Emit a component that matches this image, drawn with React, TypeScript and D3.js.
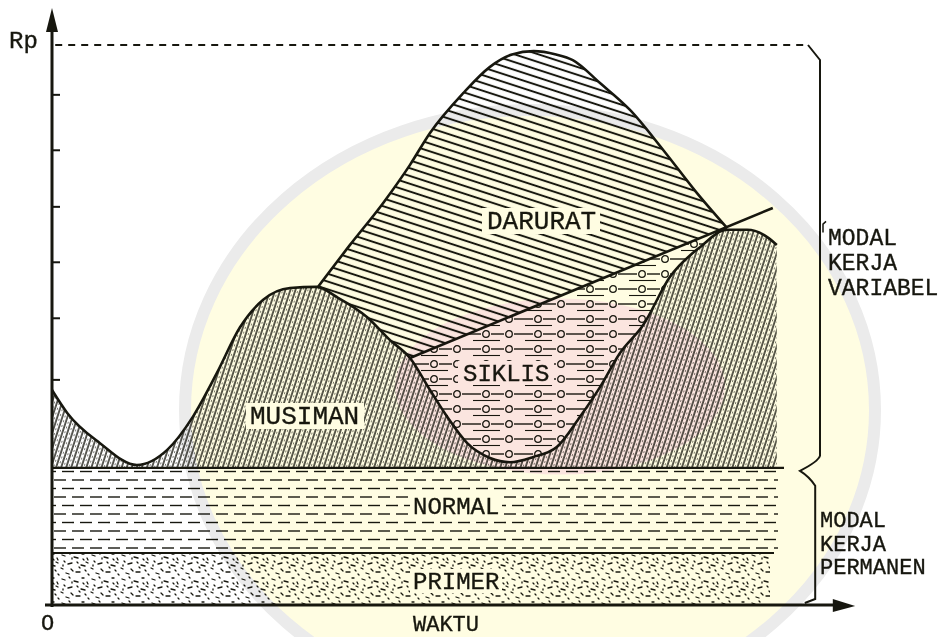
import React from "react";
import * as d3 from "d3";

// ---------- data (time units 0..100, Rp units 0..100) ----------
const primerLevel = 9.3;
const normalLevel = 24.5;
const peakLevel = 100;
const bandEnd = 90.75;

const seasonalWave: [number, number][] = [
  [0, 38.4], [1.9, 34.3], [6.0, 28.9], [10.6, 25.0], [14.4, 27.7], [17.6, 33.6],
  [20.6, 41.4], [23.5, 49.6], [26.4, 54.5], [29.75, 56.6], [33.1, 56.8], [35.6, 55.0],
  [39.4, 51.4], [42.25, 47.3], [44.75, 44.1], [47.25, 38.4], [49.4, 33.6], [51.9, 28.9],
  [54.75, 26.25], [57.25, 25.5], [60.1, 26.4], [63.1, 28.2], [66.0, 33.6], [68.5, 38.9],
  [71.0, 45.0], [73.9, 50.0], [77.25, 58.6], [81.0, 63.9], [84.4, 67.0], [86.9, 67.0],
  [89.4, 65.7], [90.6, 64.3],
];

const cyclicalTrend: [number, number][] = [[44.75, 44.1], [90.1, 70.9]];
const cyclicalEnd = 84.4;

const emergencyCurve: [number, number][] = [
  [33.25, 56.8], [37.25, 64.3], [41.4, 71.8], [44.75, 78.6], [47.25, 84.3], [51.4, 91.4],
  [54.75, 96.1], [57.5, 98.3], [60.2, 98.9], [63.0, 98.3], [65.1, 97.3], [68.5, 93.2], [72.25, 88.4],
  [76.4, 81.25], [80.6, 73.6], [84.4, 67.3],
];

const yTickValues = [40.2, 51.2, 61.2, 71.1, 81.2, 91.1];

const regionNames = ["DARURAT", "SIKLIS", "MUSIMAN", "NORMAL", "PRIMER"];
const variableLabel = ["MODAL", "KERJA", "VARIABEL"];
const permanentLabel = ["MODAL", "KERJA", "PERMANEN"];
const axisNames = ["Rp", "O", "WAKTU"];

// ---------- rendering ----------
const W = 945;
const H = 637;
const INK = "#17170f";
const FONT = "'Courier New', Courier, 'Nimbus Mono PS', FreeMono, 'Liberation Mono', monospace";

const specks = [
  [2, 3, 5, 4], [9, 1, 10, 2], [14, 5, 18, 6], [22, 2, 24, 2], [27, 6, 28, 8], [4, 9, 5, 10],
  [8, 12, 12, 11], [17, 10, 18, 11], [21, 13, 25, 14], [1, 16, 3, 17], [11, 17, 13, 19],
  [16, 20, 20, 20], [25, 18, 26, 19], [6, 21, 9, 22], [28, 22, 29, 23], [19, 15, 20, 16],
  [12, 6, 12, 7], [26, 10, 28, 11], [3, 13, 3, 14], [23, 7, 24, 8],
];

export default function App() {
  const x = d3.scaleLinear().domain([0, 100]).range([52, 852]);
  const y = d3.scaleLinear().domain([0, 100]).range([605, 45]);

  const trendAt = (t: number) => {
    const [[t0, v0], [t1, v1]] = cyclicalTrend;
    return v0 + ((t - t0) * (v1 - v0)) / (t1 - t0);
  };

  const curve = d3.curveMonotoneX;
  const lineGen = d3.line<[number, number]>().x((d) => x(d[0])).y((d) => y(d[1])).curve(curve);
  const areaGen = d3
    .area<[number, number]>()
    .x((d) => x(d[0]))
    .y0(y(normalLevel))
    .y1((d) => y(d[1]))
    .curve(curve);

  const siklisPts: [number, number][] = [
    [cyclicalTrend[0][0], cyclicalTrend[0][1]],
    [cyclicalEnd, trendAt(cyclicalEnd)],
  ];
  const siklisArea = d3
    .area<[number, number]>()
    .x((d) => x(d[0]))
    .y0(y(normalLevel))
    .y1((d) => y(d[1]))(siklisPts);

  const musimanArea = areaGen(seasonalWave);
  const daruratArea = areaGen(emergencyCurve);

  const baseY = y(normalLevel);
  const braceX = x(96);
  const braceX2 = x(95.4);

  const textStyle = { fontFamily: FONT, fill: INK, stroke: INK, strokeWidth: 0.35 } as const;

  const labelBox = (cx: number, cy: number, w: number, h: number) => (
    <rect x={cx - w / 2} y={cy - h / 2} width={w} height={h} fill="#ffffff" />
  );

  return (
    <svg
      width={W}
      height={H}
      viewBox={`0 0 ${W} ${H}`}
      style={{ position: "absolute", left: 0, top: 0, background: "#ffffff" }}
    >
      <defs>
        <pattern id="pMus" patternUnits="userSpaceOnUse" width="4.8" height="20" patternTransform="rotate(18)">
          <line x1="1" y1="0" x2="1" y2="20" stroke={INK} strokeWidth="1.4" />
          <line x1="3.4" y1="0" x2="3.4" y2="20" stroke={INK} strokeWidth="0.6" strokeDasharray="2 3" />
        </pattern>
        <pattern id="pDar" patternUnits="userSpaceOnUse" width="24" height="7.4" patternTransform="rotate(18)">
          <line x1="0" y1="3.7" x2="24" y2="3.7" stroke={INK} strokeWidth="2" />
        </pattern>
        <pattern id="pSik" patternUnits="userSpaceOnUse" width="52" height="15">
          <line x1="0" y1="4" x2="13" y2="4" stroke={INK} strokeWidth="1.4" />
          <circle cx="18" cy="4" r="3.3" fill="none" stroke={INK} strokeWidth="1.3" />
          <line x1="23" y1="4" x2="36" y2="4" stroke={INK} strokeWidth="1.4" />
          <circle cx="41" cy="4" r="3.3" fill="none" stroke={INK} strokeWidth="1.3" />
          <line x1="46" y1="4" x2="52" y2="4" stroke={INK} strokeWidth="1.4" />
          <line x1="5" y1="10.5" x2="32" y2="10.5" stroke={INK} strokeWidth="1.1" />
        </pattern>
        <pattern id="pNor" patternUnits="userSpaceOnUse" width="36" height="17">
          <line x1="0" y1="4" x2="12" y2="4" stroke={INK} strokeWidth="1.4" />
          <line x1="18" y1="4" x2="30" y2="4" stroke={INK} strokeWidth="1.4" />
          <line x1="8" y1="12.5" x2="20" y2="12.5" stroke={INK} strokeWidth="1.4" />
          <line x1="26" y1="12.5" x2="36" y2="12.5" stroke={INK} strokeWidth="1.4" />
          <line x1="0" y1="12.5" x2="2" y2="12.5" stroke={INK} strokeWidth="1.4" />
        </pattern>
        <pattern id="pPri" patternUnits="userSpaceOnUse" width="30" height="24">
          {specks.map((s, i) => (
            <line key={i} x1={s[0]} y1={s[1]} x2={s[2]} y2={s[3]} stroke={INK} strokeWidth="1.3" strokeLinecap="round" />
          ))}
        </pattern>
      </defs>

      {/* permanent bands */}
      <rect x={x(0)} y={y(primerLevel)} width={x(bandEnd - 1) - x(0)} height={y(0) - y(primerLevel)} fill="url(#pPri)" />
      <rect x={x(0)} y={y(normalLevel)} width={x(bandEnd) - x(0)} height={y(primerLevel) - y(normalLevel)} fill="url(#pNor)" />

      {/* variable regions */}
      <path d={daruratArea || ""} fill="#ffffff" />
      <path d={daruratArea || ""} fill="url(#pDar)" />
      <path d={siklisArea || ""} fill="#ffffff" />
      <path d={siklisArea || ""} fill="url(#pSik)" />
      <path d={musimanArea || ""} fill="#ffffff" />
      <path d={musimanArea || ""} fill="url(#pMus)" />

      {/* outlines */}
      <path d={lineGen(seasonalWave) || ""} fill="none" stroke={INK} strokeWidth={2.6} />
      <path d={lineGen(emergencyCurve) || ""} fill="none" stroke={INK} strokeWidth={2.6} />
      <line
        x1={x(cyclicalTrend[0][0])}
        y1={y(cyclicalTrend[0][1])}
        x2={x(cyclicalTrend[1][0])}
        y2={y(cyclicalTrend[1][1])}
        stroke={INK}
        strokeWidth={2.6}
      />
      <line x1={x(0)} x2={x(91.5)} y1={baseY} y2={baseY} stroke={INK} strokeWidth={2.2} />
      <line x1={x(0)} x2={x(bandEnd - 0.5)} y1={y(primerLevel)} y2={y(primerLevel)} stroke={INK} strokeWidth={2} />

      {/* region labels */}
      {labelBox(305, 416, 118, 26)}
      {labelBox(541, 221, 118, 26)}
      {labelBox(506, 373, 96, 24)}
      {labelBox(456, 506, 92, 24)}
      {labelBox(456, 581, 92, 24)}
      <text x={487} y={229} fontSize={26} style={textStyle}>{regionNames[0]}</text>
      <text x={463} y={381} fontSize={24} style={textStyle}>{regionNames[1]}</text>
      <text x={250} y={424} fontSize={26} style={textStyle}>{regionNames[2]}</text>
      <text x={413} y={514} fontSize={24} style={textStyle}>{regionNames[3]}</text>
      <text x={413} y={589} fontSize={24} style={textStyle}>{regionNames[4]}</text>

      {/* top dashed level */}
      <line x1={x(0.4)} x2={x(94.5)} y1={y(peakLevel)} y2={y(peakLevel)} stroke={INK} strokeWidth={1.8} strokeDasharray="7 6" />

      {/* brace */}
      <path
        d={`M${x(94.5)},${y(peakLevel)} L${braceX},${y(peakLevel) + 15} L${braceX},${baseY - 12} Q${braceX - 2},${baseY - 6} ${x(93.5)},${baseY + 3} Q${x(94.7)},${baseY + 9} ${braceX2},${baseY + 18} L${braceX2},${y(0) - 6} L${x(94.1)},${y(0) - 2}`}
        fill="none"
        stroke={INK}
        strokeWidth={2}
      />
      <path d={`M${braceX + 6},${y(68.5)} L${braceX + 3},${y(68)} L${braceX + 3},${y(66.5)}`} fill="none" stroke={INK} strokeWidth={1.5} />

      {/* axes */}
      <line x1={x(0)} x2={x(0)} y1={y(0) + 2} y2={y(0) - 580} stroke={INK} strokeWidth={3} />
      <path d={`M${x(0)},${8} L${x(0) - 6},${32} L${x(0) + 6},${32} Z`} fill={INK} />
      <line x1={x(0) - 7} x2={x(98.5)} y1={y(0)} y2={y(0)} stroke={INK} strokeWidth={3} />
      <path d={`M${x(100.4)},${y(0) + 1} L${x(97.6)},${y(0) - 6} L${x(97.6)},${y(0) + 7} Z`} fill={INK} />
      {yTickValues.map((v) => (
        <line key={v} x1={x(0)} x2={x(0) + 8} y1={y(v)} y2={y(v)} stroke={INK} strokeWidth={2} />
      ))}

      {/* axis texts */}
      <text x={9} y={48} fontSize={24} style={textStyle}>{axisNames[0]}</text>
      <text x={41} y={630} fontSize={22} style={textStyle}>{axisNames[1]}</text>
      <text x={413} y={631} fontSize={22} style={textStyle}>{axisNames[2]}</text>

      {/* side labels */}
      {variableLabel.map((s, i) => (
        <text key={"v" + i} x={828} y={245 + i * 25} fontSize={23} style={textStyle}>{s}</text>
      ))}
      {permanentLabel.map((s, i) => (
        <text key={"p" + i} x={820} y={527 + i * 23.5} fontSize={22} style={textStyle}>{s}</text>
      ))}

      {/* watermark overlay */}
      <g style={{ mixBlendMode: "multiply" }}>
        <ellipse cx={x(59.75)} cy={y(34.8)} rx={345} ry={300} fill="#fffde2" stroke="#ebebeb" strokeWidth={12} />
        <ellipse cx={x(63.5)} cy={y(39)} rx={165} ry={88} fill="#fadede" opacity={0.8} />
      </g>
    </svg>
  );
}
